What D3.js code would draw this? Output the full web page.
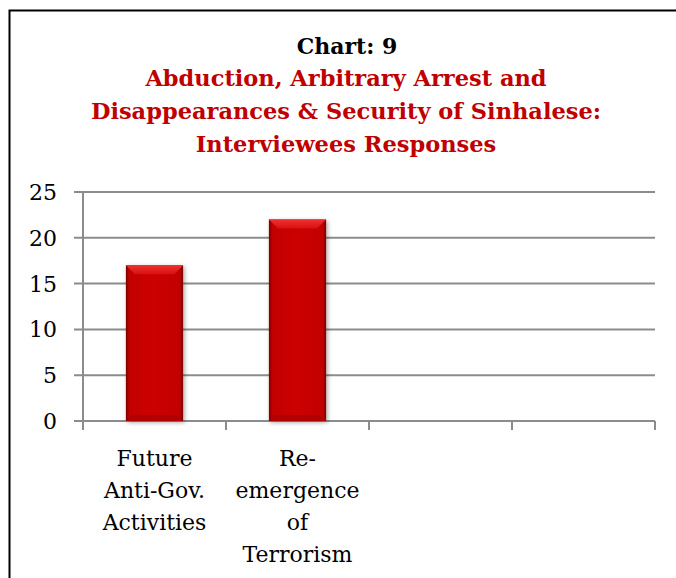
<!DOCTYPE html>
<html>
<head>
<meta charset="utf-8">
<script src="https://cdn.jsdelivr.net/npm/d3@7"></script>
<style>
  body { margin: 0; background: #fff; }
  svg { display: block; font-family: "DejaVu Serif", serif; }
</style>
</head>
<body>
<svg id="chart" width="676" height="578"></svg>
<script>
// responses per category (last two slots are empty)
var categories = ["Future Anti-Gov. Activities", "Re-emergence of Terrorism", "", ""];
var labelLines = [["Future", "Anti-Gov.", "Activities"], ["Re-", "emergence", "of", "Terrorism"], [], []];
var values = [17, 22, null, null];
var yTicks = [0, 5, 10, 15, 20, 25];
var titleLines = ["Abduction, Arbitrary Arrest and", "Disappearances & Security of Sinhalese:", "Interviewees Responses"];

var svg = d3.select("#chart");
var defs = svg.append("defs");

// frame
svg.append("rect")
  .attr("x", 9.5).attr("y", 10.5).attr("width", 700).attr("height", 600)
  .attr("fill", "none").attr("stroke", "#000").attr("stroke-width", 2);

// titles
svg.append("text")
  .attr("x", 347).attr("y", 54)
  .attr("text-anchor", "middle")
  .attr("font-size", 22).attr("font-weight", "bold")
  .attr("fill", "#000")
  .text("Chart: 9");

svg.selectAll("text.sub").data(titleLines).enter().append("text")
  .attr("class", "sub")
  .attr("x", 346).attr("y", function(d, i){ return 86 + i * 33; })
  .attr("text-anchor", "middle")
  .attr("font-size", 22.5).attr("font-weight", "bold")
  .attr("fill", "#c00000")
  .text(function(d){ return d; });

var plot = {left: 83, right: 655, top: 192, bottom: 421};

var x = d3.scaleBand().domain(d3.range(categories.length)).range([plot.left, plot.right]).paddingInner(0.6).paddingOuter(0.3);
var y = d3.scaleLinear().domain([0, 25]).range([plot.bottom, plot.top]);

// gridlines
svg.append("g").selectAll("line").data(yTicks).enter().append("line")
  .attr("x1", plot.left - 9).attr("x2", plot.right)
  .attr("y1", function(d){ return y(d); }).attr("y2", function(d){ return y(d); })
  .attr("stroke", "#8c8c8c").attr("stroke-width", 2);

// y axis
svg.append("line")
  .attr("x1", plot.left).attr("x2", plot.left).attr("y1", plot.top).attr("y2", plot.bottom + 9)
  .attr("stroke", "#8c8c8c").attr("stroke-width", 2);

svg.append("g").selectAll("text").data(yTicks).enter().append("text")
  .attr("x", 57).attr("y", function(d){ return y(d) + 8; })
  .attr("text-anchor", "end").attr("font-size", 22).attr("fill", "#000")
  .text(function(d){ return d; });

// x tick marks at band boundaries
var step = (plot.right - plot.left) / categories.length;
svg.append("g").selectAll("line").data(d3.range(1, categories.length + 1)).enter().append("line")
  .attr("x1", function(i){ return plot.left + i * step; }).attr("x2", function(i){ return plot.left + i * step; })
  .attr("y1", plot.bottom).attr("y2", plot.bottom + 9)
  .attr("stroke", "#8c8c8c").attr("stroke-width", 2);

// bar shading
var side = defs.append("linearGradient").attr("id", "side").attr("x1", 0).attr("x2", 1).attr("y1", 0).attr("y2", 0);
[[0, "#7a0000"], [0.06, "#c20000"], [0.5, "#cc0000"], [0.94, "#c20000"], [1, "#7a0000"]].forEach(function(s){
  side.append("stop").attr("offset", s[0]).attr("stop-color", s[1]);
});
var cap = defs.append("linearGradient").attr("id", "cap").attr("x1", 0).attr("x2", 0).attr("y1", 0).attr("y2", 1);
cap.append("stop").attr("offset", 0).attr("stop-color", "#f03030");
cap.append("stop").attr("offset", 1).attr("stop-color", "#d81010");
var shadow = defs.append("filter").attr("id", "shadow").attr("x", "-20%").attr("y", "-10%").attr("width", "150%").attr("height", "130%");
shadow.append("feDropShadow").attr("dx", 1.5).attr("dy", 1.5).attr("stdDeviation", 2).attr("flood-color", "#000").attr("flood-opacity", 0.35);

var bars = svg.append("g").selectAll("g").data(values.map(function(v, i){ return {v: v, i: i}; }).filter(function(d){ return d.v != null; }))
  .enter().append("g");

bars.append("rect")
  .attr("x", function(d){ return x(d.i); }).attr("y", function(d){ return y(d.v); })
  .attr("width", x.bandwidth()).attr("height", function(d){ return y(0) - y(d.v); })
  .attr("fill", "url(#side)").attr("filter", "url(#shadow)");

// bevelled top edge
bars.append("path")
  .attr("d", function(d){
    var x0 = x(d.i), x1 = x0 + x.bandwidth(), t = y(d.v), b = 9;
    return "M" + x0 + "," + t + "L" + x1 + "," + t + "L" + (x1 - b) + "," + (t + b) + "L" + (x0 + b) + "," + (t + b) + "Z";
  })
  .attr("fill", "url(#cap)");

// darker bottom edge
bars.append("path")
  .attr("d", function(d){
    var x0 = x(d.i), x1 = x0 + x.bandwidth(), b0 = y(0), b = 6;
    return "M" + x0 + "," + b0 + "L" + x1 + "," + b0 + "L" + (x1 - b) + "," + (b0 - b) + "L" + (x0 + b) + "," + (b0 - b) + "Z";
  })
  .attr("fill", "#a80000").attr("opacity", 0.7);

// category labels
var labels = svg.append("g").selectAll("text").data(labelLines).enter().append("text")
  .attr("text-anchor", "middle").attr("font-size", 22).attr("fill", "#000")
  .attr("x", function(d, i){ return x(i) + x.bandwidth() / 2; })
  .attr("y", 466);
labels.selectAll("tspan").data(function(d){ return d; }).enter().append("tspan")
  .attr("x", function(){ return d3.select(this.parentNode).attr("x"); })
  .attr("dy", function(d, j){ return j === 0 ? 0 : 32; })
  .text(function(d){ return d; });
</script>
</body>
</html>
